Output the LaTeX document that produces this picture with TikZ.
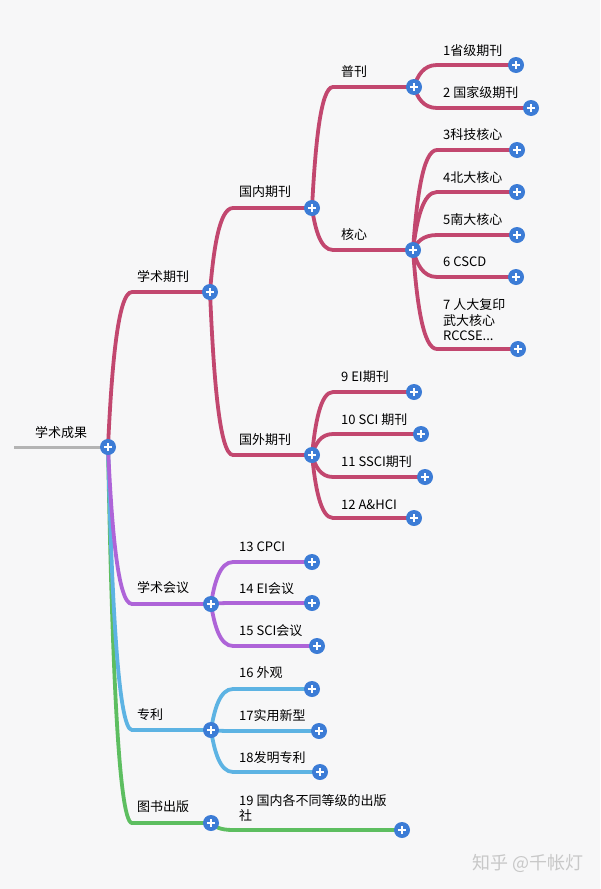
\documentclass[tikz,border=0pt]{standalone}
\usepackage{fontspec}
\setmainfont{Noto Sans CJK SC}
\usetikzlibrary{calc}
\pgfdeclarelayer{bg}
\pgfdeclarelayer{lines}
\pgfsetlayers{bg,lines,main}
\definecolor{bgc}{HTML}{F7F7F8}
\definecolor{pinkc}{HTML}{C2476F}
\definecolor{purc}{HTML}{AE64D8}
\definecolor{bluec}{HTML}{5DB3E3}
\definecolor{greenc}{HTML}{5DBE60}
\definecolor{grayc}{HTML}{B4B4B4}
\definecolor{plusc}{HTML}{3C7CD6}
\definecolor{wmc}{HTML}{C8C8C8}
\tikzset{
 pl/.style={circle, fill=plusc, minimum size=16pt, inner sep=0pt,
   path picture={\draw[white,line width=1.8pt]
     ([xshift=-4.2pt]path picture bounding box.center) -- ([xshift=4.2pt]path picture bounding box.center)
     ([yshift=-4.2pt]path picture bounding box.center) -- ([yshift=4.2pt]path picture bounding box.center);}},
 lbl/.style={anchor=west, inner sep=0pt, text=black},
 brl/.style={line width=3.8pt, line cap=round},
}
\newcommand\brc[4]{\draw[brl,#1] let \p1=(#2.center), \p2=(#3) in (\p1) .. controls ({\x1+0.15*((\x2)-(\x1))},{\y1+0.5*((\y2)-(\y1))}) and ({\x2-0.6*((\x2)-(\x1))},{\y2}) .. (\p2) -- (#4.center);}
\begin{document}
\begin{tikzpicture}[x=1pt,y=-1pt,font=\fontsize{13}{15.5}\selectfont]
\useasboundingbox (0,0) rectangle (600,889);
\begin{pgfonlayer}{bg}
\fill[bgc] (0,0) rectangle (600,889);
\end{pgfonlayer}
% plus nodes
\node[pl] (pR) at (108,447) {};
\node[pl] (pXS) at (210,292) {};
\node[pl] (pGN) at (312,208) {};
\node[pl] (pGW) at (312,455) {};
\node[pl] (pPK) at (414,87) {};
\node[pl] (pHX) at (413,250) {};
\node[pl] (p1) at (516,65) {};
\node[pl] (p2) at (531,108) {};
\node[pl] (p3) at (517,150) {};
\node[pl] (p4) at (517,192) {};
\node[pl] (p5) at (517,235) {};
\node[pl] (p6) at (516,277) {};
\node[pl] (p7) at (518,349) {};
\node[pl] (p9) at (414,392) {};
\node[pl] (p10) at (421,434) {};
\node[pl] (p11) at (425,477) {};
\node[pl] (p12) at (414,518) {};
\node[pl] (pHY) at (211,604) {};
\node[pl] (p13) at (312,562) {};
\node[pl] (p14) at (312,603) {};
\node[pl] (p15) at (317,646) {};
\node[pl] (pZL) at (211,730) {};
\node[pl] (p16) at (312,689) {};
\node[pl] (p17) at (319,731) {};
\node[pl] (p18) at (320,772) {};
\node[pl] (pTS) at (211,823) {};
\node[pl] (p19) at (402,830) {};
\coordinate (rs) at (14,447);
% labels
\node[lbl] (tR) at (35,433) {学术成果};
\node[lbl] (tXS) at (137,277) {学术期刊};
\node[lbl] (tGN) at (239,192) {国内期刊};
\node[lbl] (tGW) at (239,440) {国外期刊};
\node[lbl] (tPK) at (341,72) {普刊};
\node[lbl] (tHX) at (341,235) {核心};
\node[lbl] (t1) at (443,51) {1省级期刊};
\node[lbl] (t2) at (443,93) {2 国家级期刊};
\node[lbl] (t3) at (443,135) {3科技核心};
\node[lbl] (t4) at (443,178) {4北大核心};
\node[lbl] (t5) at (443,220) {5南大核心};
\node[lbl] (t6) at (443,262) {6 CSCD};
\node[lbl,align=left] (t7) at (443,320) {7 人大复印\\武大核心\\RCCSE...};
\node[lbl] (t9) at (341,377) {9 EI期刊};
\node[lbl] (t10) at (341,420) {10 SCI 期刊};
\node[lbl] (t11) at (341,462) {11 SSCI期刊};
\node[lbl] (t12) at (341,505) {12 A\&HCI};
\node[lbl] (tHY) at (137,588) {学术会议};
\node[lbl] (t13) at (239,547) {13 CPCI};
\node[lbl] (t14) at (239,589) {14 EI会议};
\node[lbl] (t15) at (239,631) {15 SCI会议};
\node[lbl] (tZL) at (137,715) {专利};
\node[lbl] (t16) at (239,673) {16 外观};
\node[lbl] (t17) at (239,716) {17实用新型};
\node[lbl] (t18) at (239,758) {18发明专利};
\node[lbl] (tTS) at (137,807) {图书出版};
\node[lbl,align=left,font=\fontsize{13}{14.5}\selectfont] (t19) at (239,808) {19 国内各不同等级的出版\\社};
\node[anchor=west,inner sep=0pt,text=wmc,font=\fontsize{18}{20}\selectfont] (wm) at (472,863) {知乎 @千帐灯};
% connectors
\begin{pgfonlayer}{lines}
\draw[line width=3pt,grayc] (rs) -- (pR.center);
\brc{greenc}{pR}{132,823}{pTS}
\brc{bluec}{pR}{132,730}{pZL}
\brc{purc}{pR}{132,604}{pHY}
\brc{pinkc}{pR}{132,292}{pXS}
\brc{pinkc}{pXS}{233,208}{pGN}
\brc{pinkc}{pXS}{233,455}{pGW}
\brc{pinkc}{pGN}{333,87}{pPK}
\brc{pinkc}{pGN}{333,250}{pHX}
\brc{pinkc}{pPK}{437,65}{p1}
\brc{pinkc}{pPK}{437,108}{p2}
\brc{pinkc}{pHX}{437,150}{p3}
\brc{pinkc}{pHX}{437,192}{p4}
\brc{pinkc}{pHX}{437,235}{p5}
\brc{pinkc}{pHX}{437,277}{p6}
\brc{pinkc}{pHX}{437,349}{p7}
\brc{pinkc}{pGW}{333,392}{p9}
\brc{pinkc}{pGW}{333,434}{p10}
\brc{pinkc}{pGW}{333,477}{p11}
\brc{pinkc}{pGW}{333,518}{p12}
\brc{purc}{pHY}{233,562}{p13}
\brc{purc}{pHY}{233,603}{p14}
\brc{purc}{pHY}{233,646}{p15}
\brc{bluec}{pZL}{233,689}{p16}
\brc{bluec}{pZL}{233,731}{p17}
\brc{bluec}{pZL}{233,772}{p18}
\brc{greenc}{pTS}{233,830}{p19}
\end{pgfonlayer}
\end{tikzpicture}
\end{document}
